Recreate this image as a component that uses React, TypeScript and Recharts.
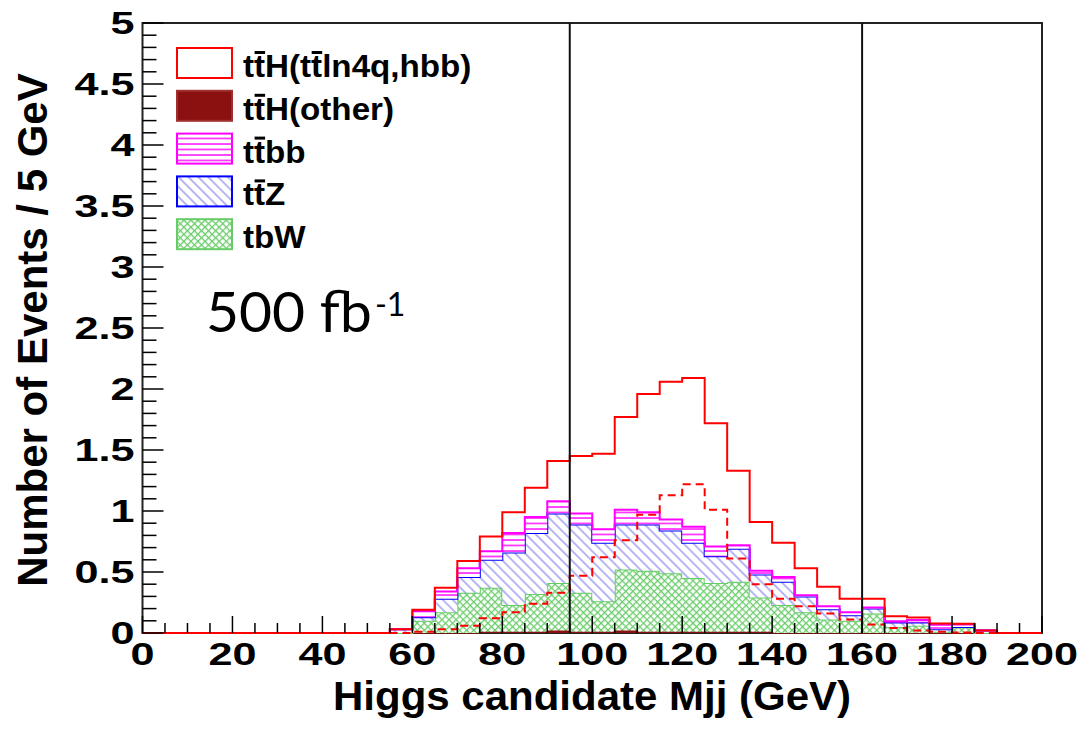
import React from 'react';
import {
  ComposedChart,
  Area,
  Line,
  XAxis,
  YAxis,
  ReferenceLine,
  ReferenceArea,
} from 'recharts';

// Lower edges of the 5 GeV bins (last entry closes the final step)
const BIN_EDGES = [
  0, 5, 10, 15, 20, 25, 30, 35, 40, 45, 50, 55, 60, 65, 70, 75, 80, 85, 90, 95,
  100, 105, 110, 115, 120, 125, 130, 135, 140, 145, 150, 155, 160, 165, 170, 175,
  180, 185, 190, 195, 200,
];

// Events per bin, one entry per 5 GeV bin (0..195)
const TTH_OTHER = [
  0, 0, 0, 0, 0, 0, 0, 0, 0, 0, 0, 0, 0, 0, 0, 0.01, 0.01, 0.01, 0.02, 0.01,
  0.01, 0.02, 0.01, 0.01, 0.01, 0.01, 0.01, 0.01, 0, 0, 0, 0, 0, 0, 0, 0,
  0, 0, 0, 0,
];
const TBW = [
  0, 0, 0, 0, 0, 0, 0, 0, 0, 0, 0, 0, 0.1, 0.17, 0.33, 0.36, 0.22, 0.31, 0.39, 0.32,
  0.25, 0.5, 0.5, 0.48, 0.44, 0.4, 0.41, 0.28, 0.23, 0.17, 0.11, 0.1, 0.16, 0.05, 0.06, 0.01,
  0.045, 0, 0, 0,
];
const TTZ = [
  0, 0, 0, 0, 0, 0, 0, 0, 0, 0, 0, 0.03, 0.03, 0.11, 0.13, 0.23, 0.43, 0.5, 0.57, 0.56,
  0.48, 0.37, 0.38, 0.35, 0.29, 0.22, 0.27, 0.19, 0.19, 0.13, 0.085, 0.046, 0.04, 0.037, 0.027, 0.02,
  0.005, 0.02, 0, 0,
];
const TTBB = [
  0, 0, 0, 0, 0, 0, 0, 0, 0, 0, 0, 0, 0.05, 0.06, 0.07, 0.07, 0.16, 0.13, 0.1, 0.09,
  0.11, 0.12, 0.1, 0.09, 0.13, 0.08, 0.03, 0.03, 0.04, 0.01, 0.025, 0.024, 0.01, 0.01, 0.02, 0.037,
  0.02, 0, 0, 0,
];
const TTH_SIGNAL = [
  0, 0, 0, 0, 0, 0, 0, 0, 0, 0, 0, 0, 0.01, 0.03, 0.06, 0.12, 0.17, 0.24, 0.33, 0.47,
  0.62, 0.76, 0.97, 1.13, 1.22, 1.01, 0.61, 0.4, 0.28, 0.22, 0.16, 0.11, 0.07, 0.04, 0.02, 0.01,
  0.005, 0, 0, 0,
];

const X_TICKS = BIN_EDGES;
const Y_TICKS = Array.from({ length: 51 }, (_, i) => i / 10);
const CUT_LINES = [95, 160];

const RED = '#ff0000';
const DARK_RED = '#8b1111';
const MAGENTA = '#ff00ff';
const BLUE = '#0000ff';
const HATCH_BLUE = '#8f8ff0';
const GREEN = '#66cc66';

const FONT = '"Liberation Sans", Arial, sans-serif';
const STRETCH = 1.35; // the original plot is stretched sideways

// one row per bin edge; the last edge repeats the last bin so the step closes
const rows = BIN_EDGES.map((x, i) => {
  const k = Math.min(i, TBW.length - 1);
  return {
    x,
    other: TTH_OTHER[k],
    tbw: TBW[k],
    ttz: TTZ[k],
    ttbb: TTBB[k],
    sig: TTH_SIGNAL[k],
  };
});

const XTick = ({ x, y, payload }: any) => {
  const v = payload.value;
  const major = v % 20 === 0;
  return (
    <g>
      <line x1={x} x2={x} y1={y} y2={y - (major ? 17 : 10)} stroke="#000" strokeWidth={1.5} />
      {major && (
        <text
          transform={`translate(${x},${y + 32}) scale(${STRETCH},1)`}
          textAnchor="middle"
          fontFamily={FONT}
          fontWeight="bold"
          fontSize={32}
          fill="#000"
        >
          {v}
        </text>
      )}
    </g>
  );
};

const YTick = ({ x, y, payload }: any) => {
  const v = payload.value;
  const major = Math.round(v * 10) % 5 === 0;
  return (
    <g>
      <line x1={x} x2={x + (major ? 21 : 14)} y1={y} y2={y} stroke="#000" strokeWidth={1.5} />
      {major && (
        <text
          transform={`translate(${x - 8},${y + 11}) scale(${STRETCH},1)`}
          textAnchor="end"
          fontFamily={FONT}
          fontWeight="bold"
          fontSize={32}
          fill="#000"
        >
          {String(v)}
        </text>
      )}
    </g>
  );
};

// hatch fills, shared by plot and legend
const Patterns = ({ prefix }: { prefix: string }) => (
  <defs>
    <pattern id={`${prefix}-bb`} patternUnits="userSpaceOnUse" width={8} height={5.5}>
      <rect width={8} height={5.5} fill="#fff" />
      <line x1={0} x2={8} y1={1} y2={1} stroke={MAGENTA} strokeWidth={1.4} />
    </pattern>
    <pattern id={`${prefix}-z`} patternUnits="userSpaceOnUse" width={7} height={7} patternTransform="rotate(-45)">
      <rect width={7} height={7} fill="#fff" />
      <line x1={1} x2={1} y1={0} y2={7} stroke={HATCH_BLUE} strokeWidth={1.3} />
    </pattern>
    <pattern id={`${prefix}-w`} patternUnits="userSpaceOnUse" width={5} height={5} patternTransform="rotate(45)">
      <rect width={5} height={5} fill="#fff" />
      <line x1={0} x2={5} y1={0} y2={0} stroke="#6ccd6c" strokeWidth={2.6} />
      <line x1={0} x2={0} y1={0} y2={5} stroke="#6ccd6c" strokeWidth={2.6} />
    </pattern>
  </defs>
);

// Arial-bold advance widths (em) of the characters that precede an overlined t
const ADV: Record<string, number> = { t: 0.333, H: 0.722, '(': 0.333 };
const LEGEND_SIZE = 31;

const LEGEND = [
  { text: 'ttH(ttln4q,hbb)', bars: [1, 5], fill: '#fff', stroke: RED },
  { text: 'ttH(other)', bars: [1], fill: DARK_RED, stroke: '#a03030' },
  { text: 'ttbb', bars: [1], fill: 'url(#lg-bb)', stroke: MAGENTA },
  { text: 'ttZ', bars: [1], fill: 'url(#lg-z)', stroke: BLUE },
  { text: 'tbW', bars: [] as number[], fill: 'url(#lg-w)', stroke: GREEN },
];

const LegendLabel = ({ text, bars, y }: { text: string; bars: number[]; y: number }) => (
  <g transform={`translate(243,${y}) scale(1.07,1)`}>
    <text x={0} y={0} fontFamily={FONT} fontWeight="bold" fontSize={LEGEND_SIZE} fill="#000">
      {text}
    </text>
    {bars.map((b) => {
      let off = 0;
      for (let i = 0; i < b; i++) off += (ADV[text[i]] ?? 0.55) * LEGEND_SIZE;
      return <rect key={b} x={off + 0.5} y={-26} width={ADV.t * LEGEND_SIZE - 0.5} height={3} fill="#000" />;
    })}
  </g>
);

const Overlay = () => (
  <svg width={1079} height={733} style={{ position: 'absolute', left: 0, top: 0, pointerEvents: 'none' }}>
    <Patterns prefix="lg" />
    {LEGEND.map((item, i) => {
      const top = 48 + i * 42.8;
      return (
        <g key={i}>
          <rect x={177} y={top} width={55} height={30} fill={item.fill} stroke={item.stroke} strokeWidth={2} />
          <LegendLabel text={item.text} bars={item.bars} y={top + 29} />
        </g>
      );
    })}
    <text x={206} y={332} fontFamily="Lato, 'Open Sans', sans-serif" fontSize={57} fill="#000">
      500 fb
      <tspan dx={3} dy={-16} fontSize={32}>-1</tspan>
    </text>
    <text
      transform="translate(592,710) scale(1.05,1)"
      textAnchor="middle"
      fontFamily={FONT}
      fontWeight="bold"
      fontSize={40}
      fill="#000"
    >
      Higgs candidate Mjj (GeV)
    </text>
    <text
      x={0}
      y={0}
      transform="translate(47,330) rotate(-90)"
      textAnchor="middle"
      fontFamily={FONT}
      fontWeight="bold"
      fontSize={42}
      fill="#000"
    >
      Number of Events / 5 GeV
    </text>
  </svg>
);

export default function App() {
  return (
    <div style={{ position: 'absolute', left: 0, top: 0, width: 1079, height: 733, background: '#fff' }}>
      <ComposedChart width={1079} height={733} data={rows} margin={{ top: 23, right: 37, bottom: 0, left: 0 }}>
        <Patterns prefix="pl" />
        <ReferenceArea x1={0} x2={200} y1={0} y2={5} fill="none" stroke="#222" strokeWidth={2} />
        <XAxis
          type="number"
          dataKey="x"
          domain={[0, 200]}
          ticks={X_TICKS}
          interval={0}
          height={100}
          axisLine={false}
          tickLine={false}
          tickSize={0}
          tickMargin={0}
          tick={<XTick />}
        />
        <YAxis
          type="number"
          domain={[0, 5]}
          ticks={Y_TICKS}
          interval={0}
          width={142.5}
          axisLine={false}
          tickLine={false}
          tickSize={0}
          tickMargin={0}
          tick={<YTick />}
        />
        <Area type="stepAfter" dataKey="other" stackId="s" fill={DARK_RED} fillOpacity={1} stroke={DARK_RED} strokeWidth={1.5} isAnimationActive={false} dot={false} activeDot={false} />
        <Area type="stepAfter" dataKey="tbw" stackId="s" fill="url(#pl-w)" fillOpacity={1} stroke={GREEN} strokeWidth={2} isAnimationActive={false} dot={false} activeDot={false} />
        <Area type="stepAfter" dataKey="ttz" stackId="s" fill="url(#pl-z)" fillOpacity={1} stroke={BLUE} strokeWidth={2} isAnimationActive={false} dot={false} activeDot={false} />
        <Area type="stepAfter" dataKey="ttbb" stackId="s" fill="url(#pl-bb)" fillOpacity={1} stroke={MAGENTA} strokeWidth={2} isAnimationActive={false} dot={false} activeDot={false} />
        <Area type="stepAfter" dataKey="sig" stackId="s" fill="none" stroke={RED} strokeWidth={2} isAnimationActive={false} dot={false} activeDot={false} />
        <Line type="stepAfter" dataKey="sig" stroke={RED} strokeWidth={2} strokeDasharray="8 5" dot={false} activeDot={false} isAnimationActive={false} />
        {CUT_LINES.map((c) => (
          <ReferenceLine key={c} x={c} stroke="#111" strokeWidth={2} />
        ))}
      </ComposedChart>
      <Overlay />
    </div>
  );
}
